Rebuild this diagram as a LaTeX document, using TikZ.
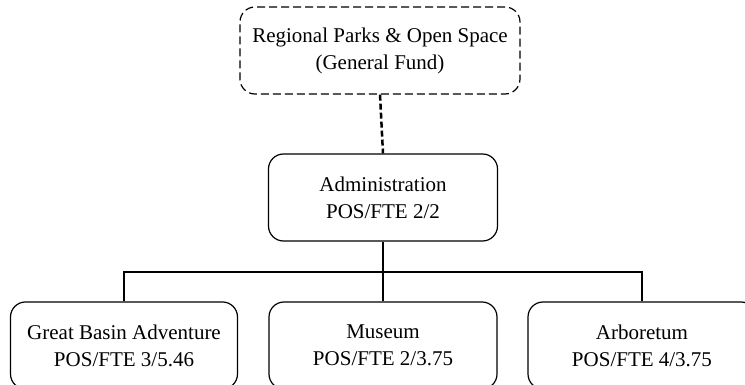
\documentclass[tikz,border=0pt]{standalone}
\usepackage{fontspec}
\setmainfont{Liberation Serif}
\begin{document}
\begin{tikzpicture}[x=1pt,y=-1pt,
        unitbox/.style={draw, line width=1.2pt, rounded corners=15pt, align=center,
          minimum height=87pt, inner sep=0pt,
          font=\fontsize{21}{27}\selectfont},
        fundbox/.style={unitbox, dashed, dash pattern=on 8pt off 4pt},
        link/.style={line width=2.5pt},
        dashlink/.style={link, dash pattern=on 6pt off 3pt}]
        \useasboundingbox (0,0) rectangle (745,385);
        \node[fundbox, minimum width=280pt] (fund) at (380,50.5) {Regional Parks \& Open Space\\(General Fund)};
        \node[unitbox, minimum width=229pt] (admin) at (383,197.5) {Administration\\POS/FTE 2/2};
        \node[unitbox, minimum width=227pt] (gba) at (124,345.5) {Great Basin Adventure\\POS/FTE 3/5.46};
        \node[unitbox, minimum width=228pt] (museum) at (383,345.5) {Museum\\POS/FTE 2/3.75};
        \node[unitbox, minimum width=228pt] (arbor) at (642,345.5) {Arboretum\\POS/FTE 4/3.75};
        \coordinate (bus) at (admin.south |- 0,272);
        \draw[dashlink] (fund.south) -- (admin.north);
        \draw[link] (admin.south) -- (museum.north);
        \draw[link] (gba.north) |- (bus) -| (arbor.north);
\end{tikzpicture}
\end{document}
